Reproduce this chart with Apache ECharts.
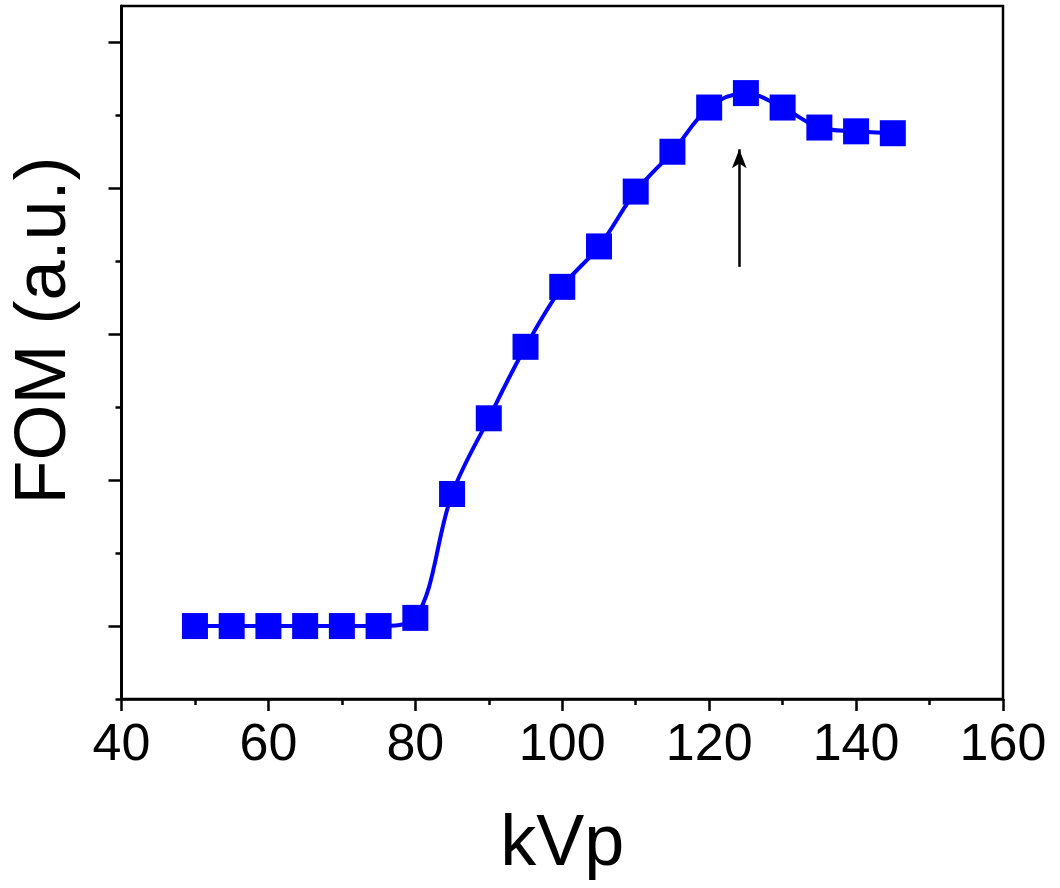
<!DOCTYPE html>
<html>
<head>
<meta charset="utf-8">
<script src="https://cdn.jsdelivr.net/npm/echarts@6/dist/echarts.min.js"></script>
<style>
html,body{margin:0;padding:0;background:#fff;}
#chart{width:1060px;height:888px;}
</style>
</head>
<body>
<div id="chart"></div>
<script>
// Data
var kvp = [50, 55, 60, 65, 70, 75, 80, 85, 90, 95, 100, 105, 110, 115, 120, 125, 130, 135, 140, 145];
var fom = [0, 0, 0, 0, 0, 0, 0.056, 0.905, 1.424, 1.914, 2.325, 2.602, 2.978, 3.251, 3.554, 3.653, 3.554, 3.417, 3.391, 3.378];
var arrowX = [124.1, 124.1];
var arrowY = [2.462, 3.268];
var xTicks = [40, 60, 80, 100, 120, 140, 160];
var yMajorTicks = [0, 1, 2, 3, 4];
var yMinorTicks = [-0.5, 0.5, 1.5, 2.5, 3.5];
var xName = 'kVp';
var yName = 'FOM (a.u.)';

var FONT = '"Liberation Sans", Arial, sans-serif';
var chart = echarts.init(document.getElementById('chart'), null, {renderer: 'canvas'});

var points = kvp.map(function (x, i) { return [x, fom[i]]; });

var axisLineStyle = {color: '#000', width: 2.5};

chart.setOption({
  animation: false,
  backgroundColor: '#fff',
  grid: {
    left: 121.5, right: 57, top: 6, bottom: 189,
    show: true, borderColor: '#000', borderWidth: 2.5, backgroundColor: 'transparent'
  },
  xAxis: {
    type: 'value',
    min: xTicks[0], max: xTicks[xTicks.length - 1], interval: xTicks[1] - xTicks[0],
    axisLine: {show: true, onZero: false, lineStyle: axisLineStyle},
    axisTick: {show: true, inside: false, length: 12, lineStyle: {color: '#000', width: 2.5}},
    minorTick: {show: true, splitNumber: 2, length: 6, lineStyle: {color: '#000', width: 2.5}},
    splitLine: {show: false},
    minorSplitLine: {show: false},
    axisLabel: {fontSize: 52, color: '#000', fontFamily: FONT, margin: 21},
    name: xName,
    nameLocation: 'middle',
    nameGap: 110,
    nameTextStyle: {fontSize: 72, color: '#000', fontFamily: FONT}
  },
  yAxis: [{
    type: 'value',
    min: -0.5, max: 4.25,
    axisLine: {show: true, onZero: false, lineStyle: axisLineStyle},
    axisTick: {show: true, inside: false, length: 13, customValues: yMajorTicks, lineStyle: {color: '#000', width: 2.5}},
    axisLabel: {show: false},
    splitLine: {show: false},
    name: yName,
    nameLocation: 'middle',
    nameRotate: 90,
    nameGap: 40,
    nameTextStyle: {fontSize: 72, color: '#000', fontFamily: FONT, padding: [0, 0, 0, 44]}
  }, {
    type: 'value',
    position: 'left',
    min: -0.5, max: 4.25,
    axisLine: {show: true, onZero: false, lineStyle: axisLineStyle},
    axisTick: {show: true, inside: false, length: 6, customValues: yMinorTicks, lineStyle: {color: '#000', width: 2.5}},
    axisLabel: {show: false},
    splitLine: {show: false}
  }],
  series: [{
    type: 'line',
    data: points,
    smooth: 0.35,
    symbol: 'rect',
    symbolSize: 26,
    showAllSymbol: true,
    lineStyle: {color: '#0000ff', width: 4},
    itemStyle: {color: '#0000ff'},
    z: 3,
    markLine: {
      silent: true,
      symbol: ['none', 'arrow'],
      symbolSize: [11, 19],
      label: {show: false},
      lineStyle: {color: '#000', width: 2.5, type: 'solid'},
      data: [[{coord: [arrowX[0], arrowY[0]]}, {coord: [arrowX[1], arrowY[1]]}]]
    }
  }]
});
</script>
</body>
</html>
